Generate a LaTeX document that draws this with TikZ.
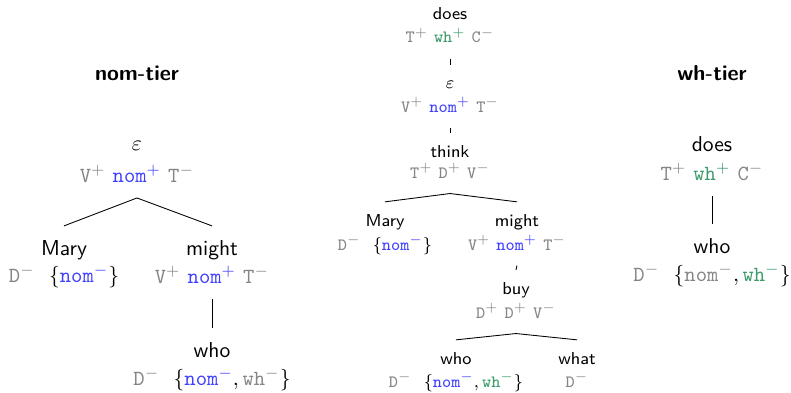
\documentclass[tikz,border=0pt]{standalone}
\definecolor{featGray}{HTML}{858585}
\definecolor{nomBlue}{HTML}{3F3FFF}
\definecolor{whGreen}{HTML}{3D9A6A}
% features (math mode): gray, nom (blue), wh (green)
\newcommand{\fg}[2]{\textcolor{featGray}{\mathtt{#1}^{#2}}}
\newcommand{\fn}[2]{\textcolor{nomBlue}{\mathtt{#1}^{#2}}}
\newcommand{\fw}[2]{\textcolor{whGreen}{\mathtt{#1}^{#2}}}
\tikzset{
  tier title/.style={font=\sffamily\bfseries, anchor=base, inner sep=0pt},
  big word/.style={font=\sffamily, inner sep=0pt, text height=13.3pt, text depth=2pt, anchor=base},
  big feat/.style={font=\sffamily, inner sep=0pt, text height=7pt, text depth=7.2pt, anchor=base},
  small word/.style={font=\sffamily\footnotesize, inner sep=0pt, text height=11pt, text depth=1.6pt, anchor=base},
  small feat/.style={font=\sffamily\footnotesize, inner sep=0pt, text height=5.6pt, text depth=7pt, anchor=base},
}

\begin{document}
\begin{tikzpicture}[x=0.0163cm, y=-0.0163cm]
  \useasboundingbox (0,0) rectangle (791,393);

  % nom-tier
  \node[tier title] (L-title) at (137,81) {nom-tier};
  \node[big word] (L-eps) at (137,151) {$\varepsilon$};
  \node[big feat] (L-eps-f) at (137,182) {$\fg{V}{+}\ \fn{nom}{+}\ \fg{T}{-}$};
  \node[big word] (L-mary) at (64,255) {Mary};
  \node[big feat] (L-mary-f) at (64,282) {$\fg{D}{-}\ \ \{\fn{nom}{-}\}$};
  \node[big word] (L-might) at (212,255) {might};
  \node[big feat] (L-might-f) at (212,283) {$\fg{V}{+}\ \fn{nom}{+}\ \fg{T}{-}$};
  \node[big word] (L-who) at (212,357) {who};
  \node[big feat] (L-who-f) at (212,385) {$\fg{D}{-}\ \ \{\fn{nom}{-}, \fg{wh}{-}\}$};
  \draw (L-eps-f.south) -- (L-mary.north);
  \draw (L-eps-f.south) -- (L-might.north);
  \draw (L-might-f.south) -- (L-who.north);

  % derivation tree
  \node[small word] (C-does) at (450,20) {does};
  \node[small feat] (C-does-f) at (450,43) {$\fg{T}{+}\ \fw{wh}{+}\ \fg{C}{-}$};
  \node[small word] (C-eps) at (450,89) {$\varepsilon$};
  \node[small feat] (C-eps-f) at (450,112) {$\fg{V}{+}\ \fn{nom}{+}\ \fg{T}{-}$};
  \node[small word] (C-think) at (450,157) {think};
  \node[small feat] (C-think-f) at (450,178) {$\fg{T}{+}\ \fg{D}{+}\ \fg{V}{-}$};
  \node[small word] (C-mary) at (385,226) {Mary};
  \node[small feat] (C-mary-f) at (385,250) {$\fg{D}{-}\ \ \{\fn{nom}{-}\}$};
  \node[small word] (C-might) at (517,226) {might};
  \node[small feat] (C-might-f) at (517,250) {$\fg{V}{+}\ \fn{nom}{+}\ \fg{T}{-}$};
  \node[small word] (C-buy) at (516,294) {buy};
  \node[small feat] (C-buy-f) at (516,318) {$\fg{D}{+}\ \fg{D}{+}\ \fg{V}{-}$};
  \node[small word] (C-who) at (456,364) {who};
  \node[small feat] (C-who-f) at (456,387) {$\fg{D}{-}\ \ \{\fn{nom}{-}, \fw{wh}{-}\}$};
  \node[small word] (C-what) at (577,364) {what};
  \node[small feat] (C-what-f) at (577,387) {$\fg{D}{-}$};
  \draw (C-does-f.south) -- (C-eps.north);
  \draw (C-eps-f.south) -- (C-think.north);
  \draw (C-think-f.south) -- (C-mary.north);
  \draw (C-think-f.south) -- (C-might.north);
  \draw (C-might-f.south) -- (C-buy.north);
  \draw (C-buy-f.south) -- (C-who.north);
  \draw (C-buy-f.south) -- (C-what.north);

  % wh-tier
  \node[tier title] (R-title) at (712,81) {wh-tier};
  \node[big word] (R-does) at (712,152) {does};
  \node[big feat] (R-does-f) at (712,180) {$\fg{T}{+}\ \fw{wh}{+}\ \fg{C}{-}$};
  \node[big word] (R-who) at (712,253) {who};
  \node[big feat] (R-who-f) at (712,281) {$\fg{D}{-}\ \ \{\fg{nom}{-}, \fw{wh}{-}\}$};
  \draw (R-does-f.south) -- (R-who.north);
\end{tikzpicture}
\end{document}
